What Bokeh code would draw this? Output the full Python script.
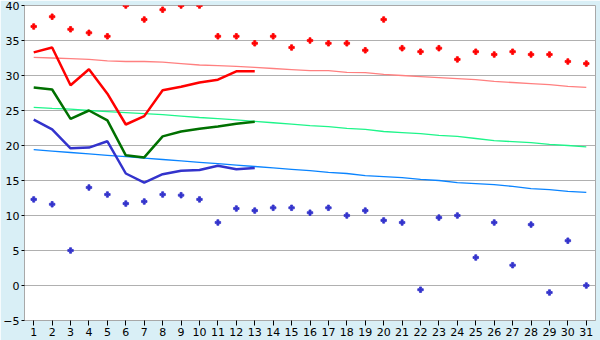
from bokeh.plotting import figure
from bokeh.models import FixedTicker, Range1d
from bokeh.embed import file_html
from bokeh.resources import INLINE

# ---- data ----
days = list(range(1, 32))
line_days = list(range(1, 14))

max_temp = [37.0, 38.4, 36.6, 36.1, 35.6, 40.0, 38.0, 39.4, 40.0, 40.0, 35.6,
            35.6, 34.6, 35.6, 34.0, 35.0, 34.6, 34.6, 33.6, 38.0, 33.9, 33.4,
            33.9, 32.3, 33.4, 33.0, 33.4, 33.0, 33.0, 32.0, 31.7]
min_temp = [12.3, 11.6, 5.0, 14.0, 13.0, 11.7, 12.0, 13.0, 12.9, 12.3, 9.0,
            11.0, 10.7, 11.1, 11.1, 10.4, 11.1, 10.0, 10.7, 9.3, 9.0, -0.6,
            9.7, 10.0, 4.0, 9.0, 2.9, 8.7, -1.0, 6.4, 0.0]

red_line = [33.3, 34.0, 28.6, 30.9, 27.4, 23.0, 24.2, 27.9, 28.4, 29.0, 29.4, 30.6, 30.6]
green_line = [28.3, 28.0, 23.8, 25.0, 23.6, 18.6, 18.3, 21.3, 22.0, 22.4, 22.7, 23.1, 23.4]
blue_line = [23.7, 22.3, 19.6, 19.7, 20.6, 16.0, 14.7, 15.9, 16.4, 16.5, 17.1, 16.6, 16.8]

normal_max = [32.6, 32.5, 32.4, 32.3, 32.1, 32.0, 32.0, 31.9, 31.7, 31.5, 31.4,
              31.3, 31.15, 31.0, 30.85, 30.7, 30.7, 30.45, 30.4, 30.15, 30.0,
              29.85, 29.7, 29.55, 29.4, 29.15, 29.0, 28.85, 28.7, 28.45, 28.3]
normal_mean = [25.45, 25.3, 25.2, 25.0, 24.85, 24.7, 24.55, 24.4, 24.2, 24.0,
               23.85, 23.65, 23.45, 23.25, 23.05, 22.85, 22.7, 22.45, 22.3, 22.0,
               21.85, 21.7, 21.45, 21.3, 21.0, 20.7, 20.55, 20.4, 20.15, 20.0, 19.8]
normal_min = [19.4, 19.2, 19.0, 18.8, 18.6, 18.4, 18.2, 18.0, 17.8, 17.6, 17.4,
              17.2, 17.0, 16.8, 16.6, 16.4, 16.15, 16.0, 15.7, 15.55, 15.4,
              15.15, 15.0, 14.7, 14.55, 14.4, 14.15, 13.85, 13.7, 13.45, 13.3]

x_ticks = list(range(1, 32))
y_ticks = [-5, 0, 5, 10, 15, 20, 25, 30, 35, 40]

# ---- figure ----
p = figure(width=600, height=340, output_backend="svg", toolbar_location=None,
           x_range=Range1d(0.5, 31.5), y_range=Range1d(-5, 40),
           min_border_left=21, min_border_right=5, min_border_top=5,
           min_border_bottom=20)
p.border_fill_color = "#D9EFF6"
p.background_fill_color = "white"
p.outline_line_color = "#A8A8A8"

p.xgrid.visible = False
p.ygrid.grid_line_color = "#B0B0B0"

font = "DejaVu Sans"
for ax in (p.xaxis[0], p.yaxis[0]):
    ax.axis_line_color = "#A8A8A8"
    ax.major_tick_line_color = "black"
    ax.minor_tick_line_color = None
    ax.major_tick_in = 0
    ax.major_label_text_font = font
    ax.major_label_text_font_size = "11px"
    ax.major_label_text_color = "black"
    ax.major_label_standoff = 2

p.xaxis.ticker = FixedTicker(ticks=x_ticks)
p.yaxis.ticker = FixedTicker(ticks=y_ticks)
p.xaxis.major_tick_out = 5
p.yaxis.major_tick_out = 3

# normals
p.line(days, normal_max, line_color="#FF8080", line_width=1.3)
p.line(days, normal_mean, line_color="#1EF58A", line_width=1.3)
p.line(days, normal_min, line_color="#0A84FF", line_width=1.3)

# observed lines
p.line(line_days, red_line, line_color="#FF0000", line_width=2.5)
p.line(line_days, green_line, line_color="#007000", line_width=2.5)
p.line(line_days, blue_line, line_color="#3333CC", line_width=2.5)

# extremes
p.scatter(days, max_temp, marker="plus", size=5.5, fill_color="#FF0000",
          line_color="#FF0000", line_width=0.8)
p.scatter(days, min_temp, marker="plus", size=5.5, fill_color="#3333CC",
          line_color="#3333CC", line_width=0.8)

open("out.html", "w").write(file_html(p, INLINE))
